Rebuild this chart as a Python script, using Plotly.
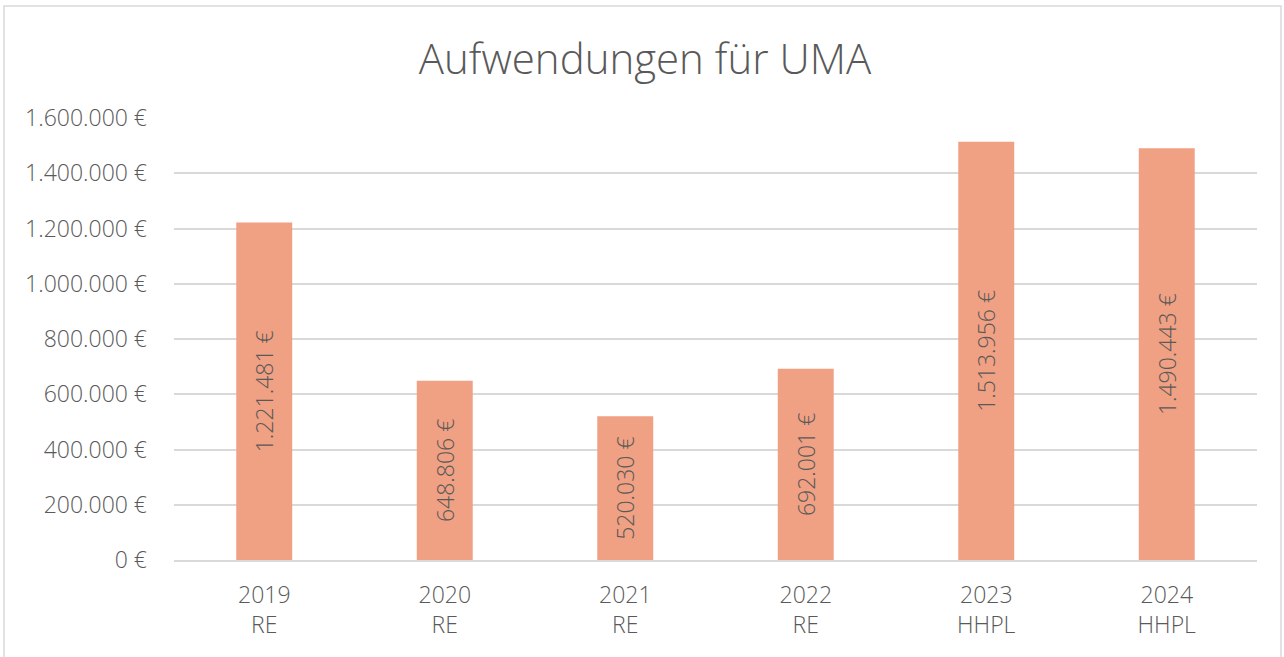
import plotly.graph_objects as go

years = ["2019", "2020", "2021", "2022", "2023", "2024"]
kinds = ["RE", "RE", "RE", "RE", "HHPL", "HHPL"]
values = [1221481, 648806, 520030, 692001, 1513956, 1490443]
y_ticks = [0, 200000, 400000, 600000, 800000, 1000000, 1200000, 1400000, 1600000]

def fmt(v):
    return f"{v:,}".replace(",", ".") + " €"

cats = [f"{y}<br>{k}" for y, k in zip(years, kinds)]

W, H = 1284, 657
ml, mr, mt, mb = 174, 27, 118, 97
FONT = "Open Sans"
GRAY = "#595959"

fig = go.Figure()
fig.add_trace(go.Bar(
    x=cats, y=values,
    marker=dict(color="#F0A083", line=dict(width=0)),
    width=0.31,
    text=[fmt(v) for v in values],
    textposition="inside",
    insidetextanchor="middle",
    textangle=-90,
    textfont=dict(family=FONT, size=23, color=GRAY, weight=300),
    hoverinfo="skip",
))

pw = W - ml - mr
ph = H - mt - mb
fig.add_shape(type="rect", xref="paper", yref="paper",
              x0=(4 - ml) / pw, x1=(1281 - ml) / pw,
              y0=(H - mb - 662) / ph, y1=(H - mb - 6) / ph,
              line=dict(color="#D9D9D9", width=1.5), fillcolor="rgba(0,0,0,0)", layer="below")

fig.update_layout(
    width=W, height=H,
    margin=dict(l=ml, r=mr, t=mt, b=mb),
    paper_bgcolor="white", plot_bgcolor="white",
    title=dict(text="Aufwendungen für UMA", x=645 / W, xref="container", xanchor="center",
               y=1 - 59 / H, yref="container", yanchor="middle",
               font=dict(family=FONT, size=42, color=GRAY, weight=300)),
    showlegend=False,
    bargap=0.69,
)
fig.update_yaxes(
    range=[0, 1600000], tickvals=y_ticks, ticktext=[fmt(v) for v in y_ticks],
    showgrid=True, gridcolor="#D9D9D9", gridwidth=1.5, zeroline=False,
    tickfont=dict(family=FONT, size=23, color=GRAY, weight=300),
    ticks="", ticklabelstandoff=26, showline=False,
)
fig.update_xaxes(
    showline=True, linecolor="#D9D9D9", linewidth=1.5, ticks="",
    tickfont=dict(family=FONT, size=23, color=GRAY, weight=300),
    ticklabelstandoff=14,
)
fig.write_html("out.html", config={"displayModeBar": False},
               post_script="document.body.style.margin='0';")
